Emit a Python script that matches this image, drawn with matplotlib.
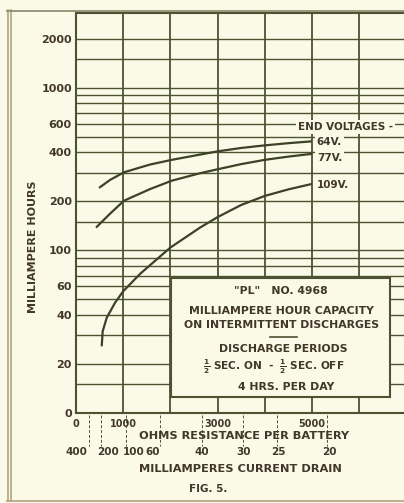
import matplotlib
matplotlib.use("Agg")
import matplotlib.pyplot as plt
from matplotlib import transforms
from matplotlib.patches import Rectangle
from matplotlib.lines import Line2D

# ---------------- data ----------------
ohms_64 = [488, 721, 1018, 1569, 2029, 2629, 3000, 3500, 4000, 4500, 5000]
mah_64 = [242, 271, 302, 337, 360, 388, 406, 426, 442, 456, 468]

ohms_77 = [424, 721, 1018, 1569, 2029, 2629, 3000, 3500, 4000, 4500, 5000]
mah_77 = [138, 168, 202, 238, 268, 298, 315, 339, 360, 377, 392]

ohms_109 = [545, 566, 651, 827, 1000, 1357, 1711, 2000, 2629, 3000, 3500, 4000, 4500, 5000]
mah_109 = [25.7, 31.8, 38.5, 47.6, 56, 71.6, 88, 104, 138, 160, 190, 216, 237, 256]

end_voltage_labels = ["64 V.", "77 V.", "109 V."]

grid_mah = [10, 15, 20, 30, 40, 50, 60, 70, 80, 90, 100, 150, 200, 300, 400,
            500, 600, 700, 800, 900, 1000, 1500, 2000]
grid_ohms = [0, 1000, 2000, 3000, 4000, 5000, 6000, 7000]

ytick_vals = [10, 20, 40, 60, 100, 200, 400, 600, 1000, 2000]
ytick_labels = ["0", "20", "40", "60", "100", "200", "400", "600", "1000", "2000"]

xtick_vals = [0, 1000, 3000, 5000]
xtick_labels = ["0", "1000", "3000", "5000"]

drain_ma = [400, 200, 100, 60, 40, 30, 25, 20]
drain_labels = ["400", "200", "100", "60", "40", "30", "25", "20"]
drain_volts = 106.5  # ohms = volts*1000 / mA

# ---------------- style ----------------
W, H = 404, 503
BG = "#fbfae9"
LINE = "#4b5330"
TXT = "#42382a"
FRAME = "#b3a27f"
FONT = "DejaVu Sans"
plt.rcParams["mathtext.fontset"] = "dejavusans"
plt.rcParams["mathtext.default"] = "bf"

def P(x, y):
    return (x / W, 1 - y / H)

fig = plt.figure(figsize=(W / 100, H / 100), dpi=100, facecolor=BG)

# outer frame
for x in (7.5, 11.0):
    fig.add_artist(Line2D([x / W, x / W], [P(0, 10)[1], P(0, 501)[1]],
                          transform=fig.transFigure, color=FRAME, lw=1.2))
fig.add_artist(Line2D([7 / W, 1.0], [P(0, 10.5)[1]] * 2,
                      transform=fig.transFigure, color="#8f8f72", lw=1.3))
fig.add_artist(Line2D([7 / W, 1.0], [P(0, 501)[1]] * 2,
                      transform=fig.transFigure, color=FRAME, lw=1.2))

left, top, bottom = 76, 12.5, 413
ax = fig.add_axes([left / W, (H - bottom) / H, (W - left) / W, (bottom - top) / H])
ax.set_facecolor(BG)
ax.set_yscale("log")
ax.set_ylim(10, 2900)
ax.set_xlim(0, (W - left) / 47.17 * 1000)

ax.hlines(grid_mah, 0, 7500, color=LINE, lw=1.0, zorder=1)
ax.vlines(grid_ohms, 10, 2900, color=LINE, lw=1.3, zorder=1)

for o, m in ((ohms_64, mah_64), (ohms_77, mah_77), (ohms_109, mah_109)):
    ax.plot(o, m, color="#3c4226", lw=1.6, zorder=3, solid_capstyle="butt",
            solid_joinstyle="round")

for s in ("left", "bottom", "top"):
    ax.spines[s].set_color(LINE)
    ax.spines[s].set_linewidth(1.5)
ax.spines["right"].set_visible(False)

ax.yaxis.set_minor_locator(matplotlib.ticker.NullLocator())
ax.set_yticks(ytick_vals)
ax.set_yticklabels(ytick_labels, fontsize=8, fontweight="bold", color=TXT, family=FONT)
ax.set_xticks(xtick_vals)
ax.set_xticklabels(xtick_labels, fontsize=7, fontweight="bold", color=TXT, family=FONT)
ax.tick_params(axis="y", length=0, pad=3)
ax.tick_params(axis="x", length=0, pad=4.3)

# curve labels at curve ends (offset in pixels downward)
ends = [(ohms_64[-1], mah_64[-1], 0.5), (ohms_77[-1], mah_77[-1], 4.0),
        (ohms_109[-1], mah_109[-1], 1.0)]
for (xe, ye, dy), lab in zip(ends, end_voltage_labels):
    ax.annotate(lab.replace(" ", ""), (xe, ye), xytext=(3.6, -dy * 0.72),
                textcoords="offset points", ha="left", va="center",
                fontsize=7.5, fontweight="bold", color=TXT, family=FONT,
                bbox=dict(boxstyle="square,pad=0.15", fc=BG, ec="none"), zorder=5)
fig.text(*P(298, 127), "END VOLTAGES -", ha="left", va="center", fontsize=7.5,
         fontweight="bold", color=TXT, family=FONT,
         bbox=dict(boxstyle="square,pad=0.2", fc=BG, ec="none"), zorder=5)

# axis titles
fig.text(*P(33, 247), "MILLIAMPERE HOURS", rotation=90, ha="center", va="center",
         fontsize=8, fontweight="bold", color=TXT, family=FONT)
fig.text(*P(244, 436), "OHMS RESISTANCE PER BATTERY", ha="center", va="center",
         fontsize=8.2, fontweight="bold", color=TXT, family=FONT)
fig.text(*P(240, 469), "MILLIAMPERES CURRENT DRAIN", ha="center", va="center",
         fontsize=8.2, fontweight="bold", color=TXT, family=FONT)
fig.text(*P(208, 489), "FIG. 5.", ha="center", va="center",
         fontsize=7.5, fontweight="bold", color=TXT, family=FONT)

# current-drain scale
bt = transforms.blended_transform_factory(ax.transData, fig.transFigure)
label_dx = [-12, 7, 7, -7, 0, 0, 1, 2]
for ma, lab, dx in zip(drain_ma, drain_labels, label_dx):
    xo = drain_volts * 1000 / ma
    ax.plot([xo, xo], [P(0, 415)[1], P(0, 446)[1]], transform=bt, clip_on=False,
            color=LINE, lw=0.7, ls=(0, (3, 2)))
    off = transforms.ScaledTranslation(dx / 100, 0, fig.dpi_scale_trans)
    ax.text(xo, P(0, 452)[1], lab, transform=bt + off, ha="center", va="center",
            fontsize=7.5, fontweight="bold", color=TXT, family=FONT)

# information box
x0, y0, x1, y1 = 171, 278, 390, 397
fig.add_artist(Rectangle(P(x0, y1), (x1 - x0) / W, (y1 - y0) / H,
                         transform=fig.transFigure, fc=BG, ec=LINE, lw=1.5, zorder=5))
box_lines = [
    ('"PL"   NO. 4968', 281, 291.5, 7.8),
    ("MILLIAMPERE HOUR CAPACITY", 281, 311, 7.8),
    ("ON INTERMITTENT DISCHARGES", 281, 325, 7.8),
    ("DISCHARGE PERIODS", 283, 348.5, 7.8),
    (r"$\frac{1}{2}$ SEC. ON  -  $\frac{1}{2}$ SEC. OFF", 274, 366.5, 7.6),
    ("4 HRS. PER DAY", 286, 386.5, 7.8),
]
for t, x, y, fs in box_lines:
    fig.text(*P(x, y), t, ha="center", va="center", fontsize=fs,
             fontweight="bold", color=TXT, family=FONT, zorder=6)
fig.add_artist(Line2D([270 / W, 297 / W], [P(0, 337)[1]] * 2,
                      transform=fig.transFigure, color=LINE, lw=1.2, zorder=6))

fig.savefig("out.png", dpi=100, facecolor=BG)
